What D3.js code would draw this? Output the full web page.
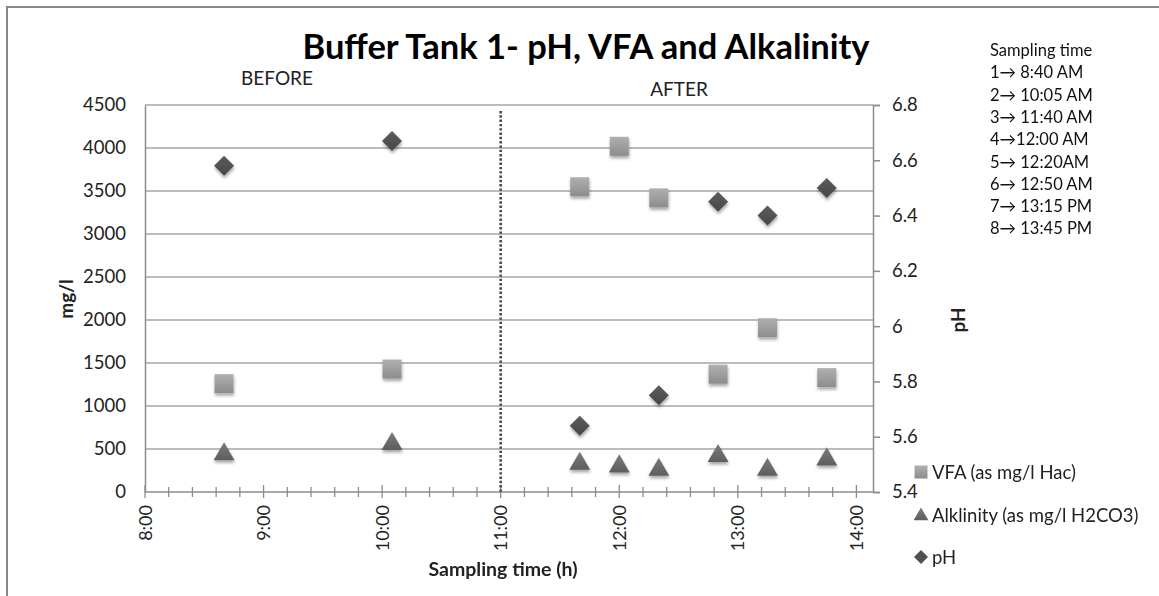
<!DOCTYPE html>
<html>
<head>
<meta charset="utf-8">
<script src="https://cdn.jsdelivr.net/npm/d3@7"></script>
<style>
  body { margin: 0; background: #fff; }
  svg { font-family: Lato, "Open Sans", sans-serif; }
</style>
</head>
<body>
<div id="chart"></div>
<script>
// sampling data
var times = ["8:40", "10:05", "11:40", "12:00", "12:20", "12:50", "13:15", "13:45"];
var vfa = [1260, 1430, 3550, 4020, 3420, 1370, 1910, 1330];
var alkalinity = [450, 570, 340, 310, 270, 430, 270, 390];
var ph = [6.58, 6.67, 5.64, null, 5.75, 6.45, 6.40, 6.50];

var leftTicks = [0, 500, 1000, 1500, 2000, 2500, 3000, 3500, 4000, 4500];
var rightTicks = [5.4, 5.6, 5.8, 6, 6.2, 6.4, 6.6, 6.8];
var hourTicks = [8, 9, 10, 11, 12, 13, 14];
var splitHour = 11;
var samplingNotes = ["Sampling time", "1\u2192 8:40 AM", "2\u2192 10:05 AM", "3\u2192 11:40 AM",
    "4\u219212:00 AM", "5\u2192 12:20AM", "6\u2192 12:50 AM", "7\u2192 13:15 PM", "8\u2192 13:45 PM"];
var legendNames = ["VFA (as mg/l Hac)", "Alklinity (as mg/l H2CO3)", "pH"];

var width = 1159, height = 596;
var plot = { left: 145, right: 873, top: 105, bottom: 492 };

function toHours(t) {
    var p = t.split(":");
    return +p[0] + (+p[1]) / 60;
}

var svg = d3.select("#chart").append("svg")
    .attr("width", width)
    .attr("height", height);

var defs = svg.append("defs");
var shadow = defs.append("filter").attr("id", "shadow")
    .attr("x", "-50%").attr("y", "-50%").attr("width", "200%").attr("height", "200%");
shadow.append("feDropShadow")
    .attr("dx", 0.5).attr("dy", 2.5)
    .attr("stdDeviation", 1.4)
    .attr("flood-color", "#000")
    .attr("flood-opacity", 0.35);

function grad(id, top, bottom) {
    var g = defs.append("linearGradient").attr("id", id)
        .attr("x1", 0).attr("y1", 0).attr("x2", 0).attr("y2", 1);
    g.append("stop").attr("offset", "0%").attr("stop-color", top);
    g.append("stop").attr("offset", "100%").attr("stop-color", bottom);
}
grad("gSquare", "#b0b0b0", "#8c8c8c");
grad("gTri", "#7a7a7a", "#5e5e5e");
grad("gDia", "#5c5c5c", "#474747");

// outer chart border
svg.append("rect")
    .attr("x", 7).attr("y", 7)
    .attr("width", 1170).attr("height", 620)
    .attr("fill", "none")
    .attr("stroke", "#878787")
    .attr("stroke-width", 2);

var x = d3.scaleLinear().domain([8, 14.14]).range([plot.left, plot.right]);
var yL = d3.scaleLinear().domain([0, 4500]).range([plot.bottom, plot.top]);
var yR = d3.scaleLinear().domain([5.4, 6.8]).range([plot.bottom, plot.top]);

// horizontal gridlines
svg.append("g").selectAll("line")
    .data(leftTicks.slice(1))
    .join("line")
    .attr("x1", plot.left).attr("x2", plot.right)
    .attr("y1", function(d) { return yL(d); })
    .attr("y2", function(d) { return yL(d); })
    .attr("stroke", "#a6a6a6")
    .attr("stroke-width", 1.5);

// left axis
var leftAxis = svg.append("g")
    .attr("transform", "translate(" + plot.left + ",0)")
    .call(d3.axisLeft(yL).tickValues(leftTicks).tickSize(0).tickPadding(19).tickFormat(d3.format("d")));
leftAxis.select(".domain").attr("stroke", "#8c8c8c").attr("stroke-width", 1.5);
leftAxis.selectAll("text").attr("font-size", 18.5).attr("fill", "#222").attr("font-family", "Lato");

// right axis
var rightAxis = svg.append("g")
    .attr("transform", "translate(" + plot.right + ",0)")
    .call(d3.axisRight(yR).tickValues(rightTicks).tickSize(7).tickPadding(12)
        .tickFormat(function(d) { return d === 6 ? "6" : d3.format(".1f")(d); }));
rightAxis.select(".domain").attr("stroke", "#8c8c8c").attr("stroke-width", 1.5);
rightAxis.selectAll("line").attr("stroke", "#8c8c8c").attr("stroke-width", 1.5);
rightAxis.selectAll("text").attr("font-size", 18.5).attr("fill", "#222").attr("font-family", "Lato");

// x axis: minor ticks every 12 minutes, major every hour
var minorTicks = d3.range(8, 14.14, 0.2).filter(function(d) { return Math.abs(d - Math.round(d)) > 0.01; });
var xAxisG = svg.append("g");
xAxisG.append("line")
    .attr("x1", plot.left).attr("x2", plot.right)
    .attr("y1", plot.bottom).attr("y2", plot.bottom)
    .attr("stroke", "#8c8c8c").attr("stroke-width", 1.5);
xAxisG.selectAll(".minor")
    .data(minorTicks)
    .join("line")
    .attr("class", "minor")
    .attr("x1", function(d) { return x(d); }).attr("x2", function(d) { return x(d); })
    .attr("y1", plot.bottom - 5).attr("y2", plot.bottom + 5)
    .attr("stroke", "#8c8c8c").attr("stroke-width", 1.3);
xAxisG.selectAll(".major")
    .data(hourTicks)
    .join("line")
    .attr("class", "major")
    .attr("x1", function(d) { return x(d); }).attr("x2", function(d) { return x(d); })
    .attr("y1", plot.bottom - 7).attr("y2", plot.bottom + 6)
    .attr("stroke", "#8c8c8c").attr("stroke-width", 1.3);
xAxisG.selectAll(".hlabel")
    .data(hourTicks)
    .join("text")
    .attr("class", "hlabel")
    .attr("transform", function(d) { return "translate(" + (x(d) + 6.5) + "," + (plot.bottom + 13) + ") rotate(-90)"; })
    .attr("text-anchor", "end")
    .attr("font-size", 18)
    .attr("fill", "#222")
    .text(function(d) { return d + ":00"; });

// before / after divider
svg.append("line")
    .attr("x1", x(splitHour)).attr("x2", x(splitHour))
    .attr("y1", plot.top + 6).attr("y2", plot.bottom)
    .attr("stroke", "#4a4a4a")
    .attr("stroke-width", 2.6)
    .attr("stroke-dasharray", "2.4 1.9");

// markers
var pts = times.map(function(t, i) {
    return { h: toHours(t), vfa: vfa[i], alk: alkalinity[i], ph: ph[i] };
});

var marks = svg.append("g").attr("filter", "url(#shadow)");

marks.selectAll(".vfa")
    .data(pts)
    .join("rect")
    .attr("class", "vfa")
    .attr("x", function(d) { return x(d.h) - 9.5; })
    .attr("y", function(d) { return yL(d.vfa) - 9.5; })
    .attr("width", 19).attr("height", 19)
    .attr("fill", "url(#gSquare)");

var tri = d3.symbol().type(d3.symbolTriangle).size(190);
marks.selectAll(".alk")
    .data(pts)
    .join("path")
    .attr("class", "alk")
    .attr("d", tri)
    .attr("transform", function(d) { return "translate(" + x(d.h) + "," + (yL(d.alk) + 1) + ")"; })
    .attr("fill", "url(#gTri)");

marks.selectAll(".ph")
    .data(pts.filter(function(d) { return d.ph != null; }))
    .join("path")
    .attr("class", "ph")
    .attr("d", "M0,-10L10,0L0,10L-10,0Z")
    .attr("transform", function(d) { return "translate(" + x(d.h) + "," + yR(d.ph) + ")"; })
    .attr("fill", "url(#gDia)");

// titles
svg.append("text")
    .attr("x", 586).attr("y", 59)
    .attr("text-anchor", "middle")
    .attr("font-size", 34.5)
    .attr("font-weight", "bold")
    .attr("fill", "#000")
    .text("Buffer Tank 1- pH, VFA and Alkalinity");

svg.append("text")
    .attr("x", 277).attr("y", 85)
    .attr("text-anchor", "middle")
    .attr("font-size", 19)
    .attr("fill", "#222")
    .text("BEFORE");
svg.append("text")
    .attr("x", 679).attr("y", 96)
    .attr("text-anchor", "middle")
    .attr("font-size", 19)
    .attr("fill", "#222")
    .text("AFTER");

svg.append("text")
    .attr("transform", "translate(73,299) rotate(-90)")
    .attr("text-anchor", "middle")
    .attr("font-size", 19)
    .attr("font-weight", "bold")
    .attr("fill", "#222")
    .text("mg/l");
svg.append("text")
    .attr("transform", "translate(965,320) rotate(-90)")
    .attr("text-anchor", "middle")
    .attr("font-size", 19)
    .attr("font-weight", "bold")
    .attr("fill", "#222")
    .text("pH");
svg.append("text")
    .attr("x", 503).attr("y", 576)
    .attr("text-anchor", "middle")
    .attr("font-size", 19.5)
    .attr("font-weight", "bold")
    .attr("fill", "#222")
    .text("Sampling time (h)");

// sampling time notes
svg.append("g").selectAll("text")
    .data(samplingNotes)
    .join("text")
    .attr("x", 990)
    .attr("y", function(d, i) { return 56 + i * 22.3; })
    .attr("font-size", 16.5)
    .attr("fill", "#111")
    .text(function(d) { return d; });

// legend
var legend = svg.append("g").attr("transform", "translate(921,0)");
var legendY = [472, 515, 557];
legend.append("rect").attr("x", -6.5).attr("y", legendY[0] - 6.5).attr("width", 13).attr("height", 13).attr("fill", "url(#gSquare)");
legend.append("path").attr("d", d3.symbol().type(d3.symbolTriangle).size(95)).attr("transform", "translate(0," + (legendY[1] + 1) + ")").attr("fill", "url(#gTri)");
legend.append("path").attr("d", "M0,-7L7,0L0,7L-7,0Z").attr("transform", "translate(0," + legendY[2] + ")").attr("fill", "#505050");
legend.selectAll(".ltext")
    .data(legendNames)
    .join("text")
    .attr("class", "ltext")
    .attr("x", 11)
    .attr("y", function(d, i) { return legendY[i] + 6.5; })
    .attr("font-size", 18.5)
    .attr("fill", "#222")
    .text(function(d) { return d; });
</script>
</body>
</html>
